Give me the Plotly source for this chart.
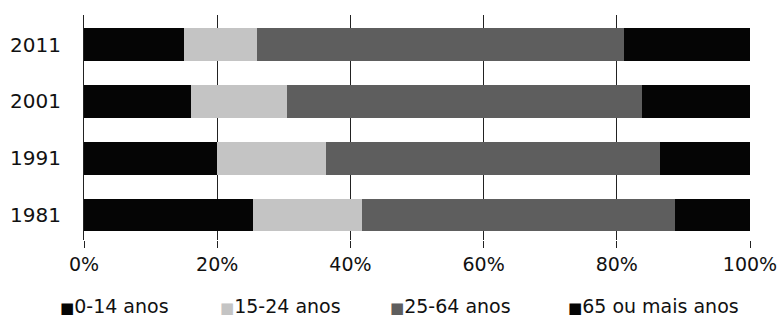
import plotly.graph_objects as go

years = ["1981", "1991", "2001", "2011"]
groups = ["0-14 anos", "15-24 anos", "25-64 anos", "65 ou mais anos"]
v_0_14 = [25.4, 20.0, 16.1, 15.0]
v_15_24 = [16.3, 16.3, 14.4, 11.0]
v_25_64 = [47.0, 50.2, 53.3, 55.1]
v_65 = [11.3, 13.5, 16.2, 18.9]
x_ticks = [0, 20, 40, 60, 80, 100]
x_ticklabels = ["0%", "20%", "40%", "60%", "80%", "100%"]

colors = ["#050505", "#c4c4c4", "#5e5e5e", "#050505"]
series = [v_0_14, v_15_24, v_25_64, v_65]

FONT = "DejaVu Sans"

fig = go.Figure()
for name, vals, col in zip(groups, series, colors):
    fig.add_trace(go.Bar(
        y=years, x=vals, name=name, orientation="h",
        marker=dict(color=col, line=dict(width=0)),
        showlegend=False,
    ))

# legend as text annotations (square glyph + label)
legend_x = [-0.039, 0.201, 0.456, 0.724]
for name, col, lx in zip(groups, colors, legend_x):
    fig.add_annotation(
        xref="paper", yref="paper", x=lx, y=-0.292,
        xanchor="left", yanchor="middle", showarrow=False,
        text=f'<span style="color:{col};font-size:15px">■</span>{name}',
        font=dict(family=FONT, size=19, color="#111"),
    )

fig.update_layout(
    width=780, height=318,
    margin=dict(l=84, r=30, t=15, b=78, autoexpand=False),
    barmode="stack", bargap=0.42,
    plot_bgcolor="white", paper_bgcolor="white",
    font=dict(family=FONT, size=20, color="#111"),
    xaxis=dict(
        range=[0, 100], tickvals=x_ticks, ticktext=x_ticklabels,
        showgrid=True, gridcolor="#222", gridwidth=1,
        ticks="outside", ticklen=7, tickcolor="#222",
        zeroline=False, showline=False, automargin=False,
        tickfont=dict(family=FONT, size=19, color="#111"),
        ticklabelstandoff=0,
    ),
    yaxis=dict(
        type="category", categoryorder="array", categoryarray=years,
        range=[-0.44, 3.52], automargin=False,
        showline=True, linecolor="#222", linewidth=1,
        showgrid=False, ticks="", ticklabelstandoff=18,
        tickfont=dict(family=FONT, size=20, color="#111"),
    ),
)

fig.write_html(
    "out.html",
    config={"displayModeBar": False},
    post_script="document.body.style.margin='0';document.body.style.overflow='hidden';",
)
